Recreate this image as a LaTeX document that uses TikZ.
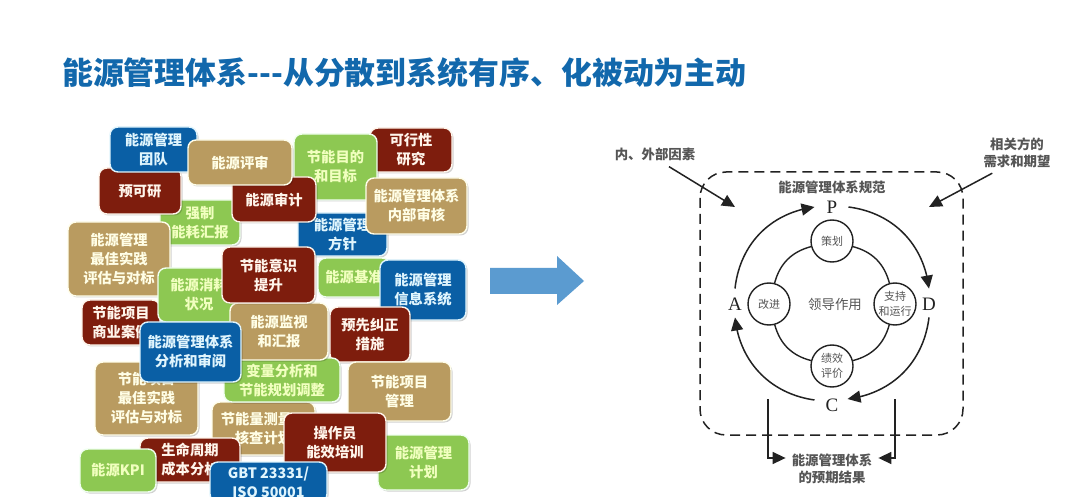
\documentclass[tikz,border=0pt]{standalone}
\usepackage{fontspec}
\newfontfamily\cjk{Noto Sans CJK SC}
\newfontfamily\serifl{Liberation Serif}
\usetikzlibrary{arrows.meta,shadows,bending,quotes}
\definecolor{bblue}{HTML}{0A5FA5}
\definecolor{btan}{HTML}{B99B60}
\definecolor{bred}{HTML}{7E1D0D}
\definecolor{bgreen}{HTML}{8DC852}
\definecolor{titleblue}{HTML}{1268AC}
\definecolor{arrowblue}{HTML}{5B9BD0}
\definecolor{ink}{HTML}{222222}
\definecolor{soft}{HTML}{555555}
\tikzset{
  tile/.style={draw=white,line width=1.4pt,rounded corners=8pt,inner sep=0pt,align=center,
    font=\cjk\bfseries\fontsize{14.3}{19}\selectfont,
    drop shadow={shadow xshift=1.5pt,shadow yshift=-1.5pt,fill=black,opacity=.18}},
  tblue/.style={tile,fill=bblue,draw=cyan!12,text=cyan!12},
  ttan/.style={tile,fill=btan,draw=yellow!8,text=yellow!10!white},
  tred/.style={tile,fill=bred,draw=orange!8,text=orange!8},
  tgreen/.style={tile,fill=bgreen,draw=green!6,text=green!22!yellow!25!white},
  ring/.style={circle,draw=ink,line width=1.4pt,fill=white,minimum size=42pt,inner sep=0pt,align=center,
    text=soft,font=\cjk\fontsize{11}{15}\selectfont},
  pdca/.style={font=\serifl\fontsize{19}{19}\selectfont,text=ink,inner sep=1pt},
  note/.style={font=\cjk\bfseries\fontsize{13.4}{17}\selectfont,text=soft,align=center,inner sep=0pt},
  flow/.style={draw=ink,line width=1.5pt,-{Triangle[length=13pt,width=12pt]}},
  inner link/.style={draw=ink,line width=1.4pt},
  frame line/.style={draw=ink,line width=1.5pt,dash pattern=on 10pt off 6pt,rounded corners=26pt},
}
\newcommand{\bx}[7]{\node[#6,minimum width={(#4-#2)*1pt},minimum height={(#5-#3)*1pt}] (#1) at ({(#2+#4)/2},{(#3+#5)/2}) {#7};}
\begin{document}
\begin{tikzpicture}[x=1pt,y=-1pt]
\useasboundingbox (0,0) rectangle (1080,497);
\fill[white] (0,0) rectangle (1080,497);
\node[anchor=west,inner sep=0pt,text=titleblue,font=\cjk\bfseries\fontsize{30.9}{34}\selectfont] (title) at (62,73) {能源管理体系---从分散到系统有序、化被动为主动};

% tiles, back to front
\bx{kxx}{370}{128}{452}{172}{tred}{可行性\\研究}
\bx{mubiao}{294}{134}{377}{200}{tgreen}{节能目的\\和目标}
\bx{fangzhen}{298}{213}{387}{256}{tblue}{能源管理\\方针}
\bx{neishen}{366}{178}{467}{234}{ttan}{能源管理体系\\内部审核}
\bx{huibao}{160}{200}{240}{245}{tgreen}{强制\\能耗汇报}
\bx{yuke}{99}{168}{181}{214}{tred}{预可研}
\bx{tuandui}{110}{127}{197}{172}{tblue}{能源管理\\团队}
\bx{shenji}{232}{177}{316}{222}{tred}{能源审计}
\bx{pingshen}{188}{140}{292}{185}{ttan}{能源评审}
\bx{jizhun}{318}{258}{390}{297}{tgreen}{能源基准}
\bx{xinxi}{380}{260}{466}{320}{tblue}{能源管理\\信息系统}
\bx{shijian}{68}{222}{170}{296}{ttan}{能源管理\\最佳实践\\评估与对标}
\bx{shangye}{82}{300}{160}{345}{tred}{节能项目\\商业案例}
\bx{xiaohao}{158}{268}{240}{322}{tgreen}{能源消耗\\状况}
\bx{jiuzheng}{330}{307}{410}{362}{tred}{预先纠正\\措施}
\bx{hecha}{212}{402}{315}{455}{ttan}{节能量测量\hspace*{14pt}\\核查计划}
\bx{bianliang}{224}{358}{340}{402}{tgreen}{变量分析和\\节能规划调整}
\bx{jiance}{230}{303}{328}{360}{ttan}{能源监视\\和汇报}
\bx{yishi}{222}{247}{315}{303}{tred}{节能意识\\提升}
\bx{zhouqi}{140}{438}{240}{482}{tred}{生命周期\\成本分析}
\bx{shijianb}{95}{362}{198}{435}{ttan}{节能项目\\最佳实践\\评估与对标}
\bx{fenxi}{140}{322}{241}{382}{tblue}{能源管理体系\\分析和审阅}
\bx{xiangmu}{348}{362}{451}{421}{ttan}{节能项目\\管理}
\bx{jihua}{378}{435}{469}{490}{tgreen}{能源管理\\计划}
\bx{peixun}{284}{413}{386}{472}{tred}{操作员\\能效培训}
\bx{kpi}{80}{449}{156}{492}{tgreen}{能源KPI}
\bx{gbt}{210}{462}{327}{502}{tblue}{GBT 23331/\\ISO 50001}

% big arrow
\fill[arrowblue] (490,268) -- (557,268) -- (557,256) -- (584,281) -- (557,305) -- (557,294) -- (490,294) -- cycle;

% right diagram
\draw[frame line] (700,172) rectangle (963,435);
\node[note] (spec) at (832,187) {能源管理体系规范};
\node[pdca] (P) at (832,207) {P};
\node[pdca] (D) at (929,304) {D};
\node[pdca] (C) at (832,405) {C};
\node[pdca] (A) at (735,304) {A};
\node[ring] (plan) at (832,241) {策划};
\node[ring] (run) at (895,304) {支持\\和运行};
\node[ring] (check) at (832,366) {绩效\\评价};
\node[ring] (act) at (769,304) {改进};
\node[inner sep=0pt,text=soft,font=\cjk\fontsize{13.4}{15}\selectfont] (lead) at (835,304) {领导作用};
\draw[inner link] (plan) to[bend left=30] (run);
\draw[inner link] (run) to[bend left=30] (check);
\draw[inner link] (check) to[bend left=30] (act);
\draw[inner link] (act) to[bend left=30] (plan);
\draw[flow] ([xshift=10pt]P.east) to[bend left=38] ([yshift=8pt]D.north);
\draw[flow] ([yshift=-6pt]D.south) to[bend left=38] ([xshift=8pt,yshift=6pt]C.east);
\draw[flow] ([xshift=-10pt,yshift=5pt]C.west) to[bend left=38] ([yshift=-6pt]A.south);
\draw[flow] ([yshift=8pt]A.north) to[bend left=38] ([xshift=-11pt]P.west);

\node[note] (factors) at (655,154) {内、外部因素};
\node[note] (needs) at (1017,153) {相关方的\\需求和期望};
\node[note] (result) at (832,469) {能源管理体系\\的预期结果};
\coordinate (fin) at (735,207);
\coordinate (nin) at (929,207);
\coordinate (ol) at (768,399);
\coordinate (or) at (895,399);
\draw[flow] ([xshift=14pt,yshift=-6pt]factors.south) -- (fin);
\draw[flow] ([xshift=9pt,yshift=-5pt]needs.south west) -- (nin);
\draw[flow] (ol) |- ([xshift=-6pt,yshift=11pt]result.west);
\draw[flow] (or) |- ([xshift=6pt,yshift=11pt]result.east);
\end{tikzpicture}
\end{document}
